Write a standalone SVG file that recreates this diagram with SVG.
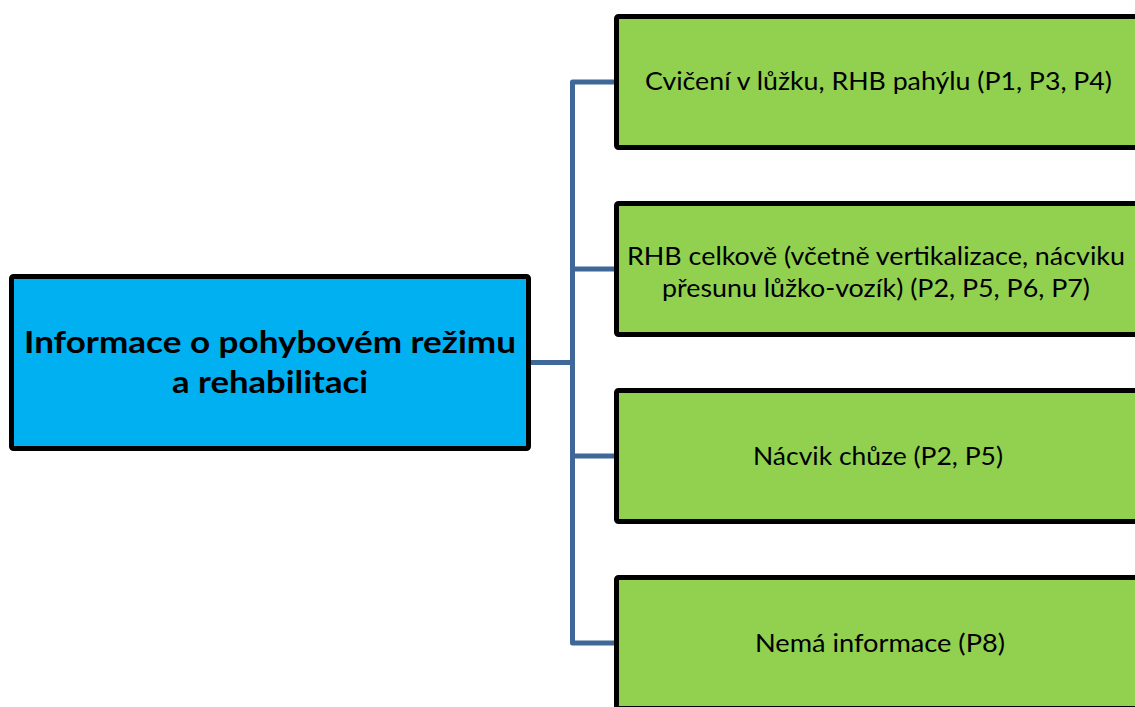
<svg xmlns="http://www.w3.org/2000/svg" width="1135" height="707" viewBox="0 0 1135 707">
  <style>
    .root { fill: #00b0f0; stroke: #000; stroke-width: 5; }
    .leaf { fill: #92d050; stroke: #000; stroke-width: 5; }
    .conn { fill: none; stroke: #3f6797; stroke-width: 5; stroke-linejoin: round; }
    .t1 { font-family: Lato, "Open Sans", "Liberation Sans", sans-serif; font-weight: 700; font-size: 30px; fill: #000; }
    .t2 { font-family: Lato, "Open Sans", "Liberation Sans", sans-serif; font-size: 24.5px; fill: #000; }
  </style>

  <g id="connectors">
    <path class="conn" d="M531 362.5 H572.5"/>
    <path class="conn" d="M614 82 H572.5 V643 H614"/>
    <path class="conn" d="M572.5 269 H614"/>
    <path class="conn" d="M572.5 456 H614"/>
  </g>

  <g id="root">
    <rect class="root" x="11.5" y="276.5" width="517" height="172" rx="2"/>
    <text class="t1" x="270" y="353" text-anchor="middle" textLength="492" lengthAdjust="spacingAndGlyphs">Informace o pohybovém režimu</text>
    <text class="t1" x="270" y="393" text-anchor="middle" textLength="196" lengthAdjust="spacingAndGlyphs">a rehabilitaci</text>
  </g>

  <g id="leaf1">
    <rect class="leaf" x="616.5" y="16.5" width="525" height="131" rx="2"/>
    <text class="t2" x="878.5" y="90" text-anchor="middle" textLength="467" lengthAdjust="spacingAndGlyphs">Cvičení v lůžku, RHB pahýlu (P1, P3, P4)</text>
  </g>

  <g id="leaf2">
    <rect class="leaf" x="616.5" y="203.5" width="525" height="131" rx="2"/>
    <text class="t2" x="876" y="265" text-anchor="middle" textLength="498" lengthAdjust="spacingAndGlyphs">RHB celkově (včetně vertikalizace, nácviku</text>
    <text class="t2" x="876" y="297" text-anchor="middle" textLength="428" lengthAdjust="spacingAndGlyphs">přesunu lůžko-vozík) (P2, P5, P6, P7)</text>
  </g>

  <g id="leaf3">
    <rect class="leaf" x="616.5" y="390.5" width="525" height="131" rx="2"/>
    <text class="t2" x="878" y="465" text-anchor="middle" textLength="250" lengthAdjust="spacingAndGlyphs">Nácvik chůze (P2, P5)</text>
  </g>

  <g id="leaf4">
    <rect class="leaf" x="616.5" y="577.5" width="525" height="131" rx="2"/>
    <text class="t2" x="880" y="652" text-anchor="middle" textLength="250" lengthAdjust="spacingAndGlyphs">Nemá informace (P8)</text>
  </g>
</svg>
